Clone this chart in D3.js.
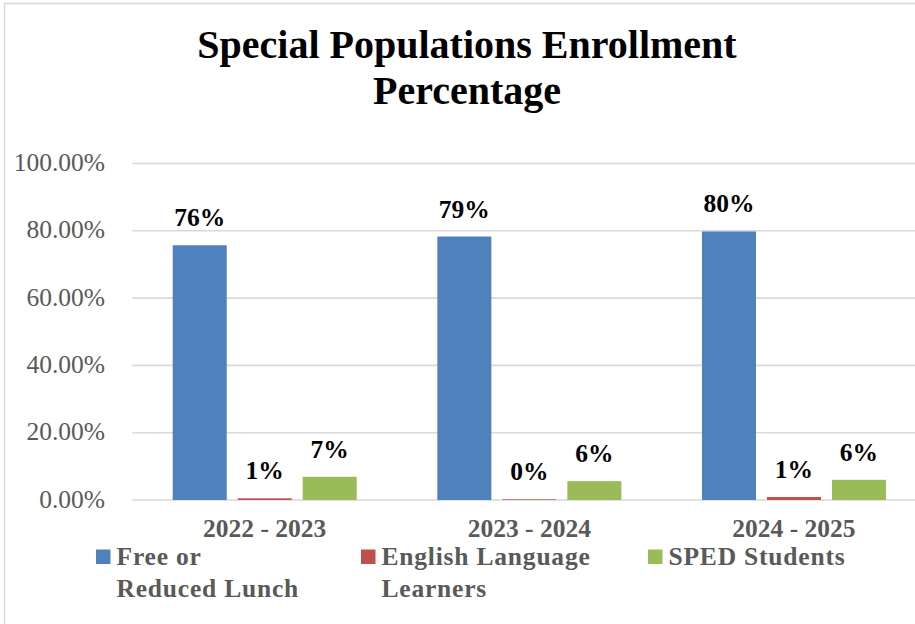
<!DOCTYPE html>
<html>
<head>
<meta charset="utf-8">
<script src="https://cdn.jsdelivr.net/npm/d3@7"></script>
<style>
  body { margin: 0; background: #fff; }
  svg { display: block; font-family: "Liberation Serif", serif; }
</style>
</head>
<body>
<svg id="chart"></svg>
<script>
// DATA
var categories = ["2022 - 2023", "2023 - 2024", "2024 - 2025"];
var seriesNames = ["Free or Reduced Lunch", "English Language Learners", "SPED Students"];
var legendLines = [["Free or", "Reduced Lunch"], ["English Language", "Learners"], ["SPED Students"]];
var freeLunch = [0.757, 0.783, 0.798];
var ellLearners = [0.005, 0.002, 0.009];
var spedStudents = [0.069, 0.056, 0.060];
var labels = [["76%", "79%", "80%"], ["1%", "0%", "1%"], ["7%", "6%", "6%"]];
var yTicks = [0, 0.2, 0.4, 0.6, 0.8, 1.0];
var colors = ["#4f81bd", "#c0504d", "#9bbb59"];

var width = 915, height = 624;
var svg = d3.select("#chart").attr("width", width).attr("height", height);

// chart border (chart is cropped on right and bottom)
svg.append("rect")
  .attr("x", 4.5).attr("y", 3.5)
  .attr("width", 940).attr("height", 640)
  .attr("fill", "none").attr("stroke", "#d9d9d9").attr("stroke-width", 1.5);

// title
var title = svg.append("text")
  .attr("text-anchor", "middle")
  .attr("font-weight", "bold")
  .attr("font-size", 40)
  .attr("fill", "#000");
title.append("tspan").attr("x", 467).attr("y", 58).text("Special Populations Enrollment");
title.append("tspan").attr("x", 467).attr("y", 104).text("Percentage");

// scales
var x0 = d3.scaleBand().domain(categories).range([132.4, 926.3]).padding(0);
var x1 = d3.scaleBand().domain(seriesNames).range([0, x0.bandwidth()])
  .paddingInner(0.169).paddingOuter(0.62);
var y = d3.scaleLinear().domain([0, 1]).range([500, 163.5]);

// gridlines
svg.append("g").selectAll("line").data(yTicks).enter().append("line")
  .attr("x1", 132.4).attr("x2", 926)
  .attr("y1", function (d) { return y(d); })
  .attr("y2", function (d) { return y(d); })
  .attr("stroke", "#d9d9d9").attr("stroke-width", 1.6);

// y axis labels
var yAxis = d3.axisLeft(y).tickValues(yTicks).tickFormat(d3.format(".2%")).tickSize(0).tickPadding(0);
var yg = svg.append("g").attr("transform", "translate(105,0)").call(yAxis);
yg.select(".domain").remove();
yg.selectAll("text")
  .attr("font-family", "Liberation Serif, serif")
  .attr("font-size", 25.5)
  .attr("fill", "#595959")
  .attr("dy", "7px");

// bars
var seriesValues = [freeLunch, ellLearners, spedStudents];
seriesValues.forEach(function (vals, si) {
  var g = svg.append("g");
  g.selectAll("rect").data(vals).enter().append("rect")
    .attr("x", function (d, i) { return x0(categories[i]) + x1(seriesNames[si]); })
    .attr("y", function (d) { return y(d); })
    .attr("width", x1.bandwidth())
    .attr("height", function (d) { return y(0) - y(d); })
    .attr("fill", colors[si]);
  g.selectAll("text").data(vals).enter().append("text")
    .attr("x", function (d, i) { return x0(categories[i]) + x1(seriesNames[si]) + x1.bandwidth() / 2; })
    .attr("y", function (d) { return y(d) - 19; })
    .attr("text-anchor", "middle")
    .attr("font-weight", "bold")
    .attr("font-size", 25.5)
    .attr("fill", "#000")
    .text(function (d, i) { return labels[si][i]; });
});

// category labels
svg.append("g").selectAll("text").data(categories).enter().append("text")
  .attr("x", function (d) { return x0(d) + x0.bandwidth() / 2; })
  .attr("y", 537)
  .attr("text-anchor", "middle")
  .attr("font-weight", "bold")
  .attr("font-size", 25.5)
  .attr("fill", "#595959")
  .text(function (d) { return d; });

// legend
var legendX = [96, 361, 648];
legendLines.forEach(function (lines, i) {
  var g = svg.append("g").attr("transform", "translate(" + legendX[i] + ",0)");
  g.append("rect").attr("x", 0).attr("y", 549.5).attr("width", 14.5).attr("height", 14.5).attr("fill", colors[i]);
  lines.forEach(function (t, li) {
    g.append("text")
      .attr("x", 20.5).attr("y", 565 + li * 31.5)
      .attr("font-weight", "bold")
      .attr("font-size", 25.5)
      .attr("letter-spacing", "0.8px")
      .attr("fill", "#595959")
      .text(t);
  });
});
</script>
</body>
</html>
